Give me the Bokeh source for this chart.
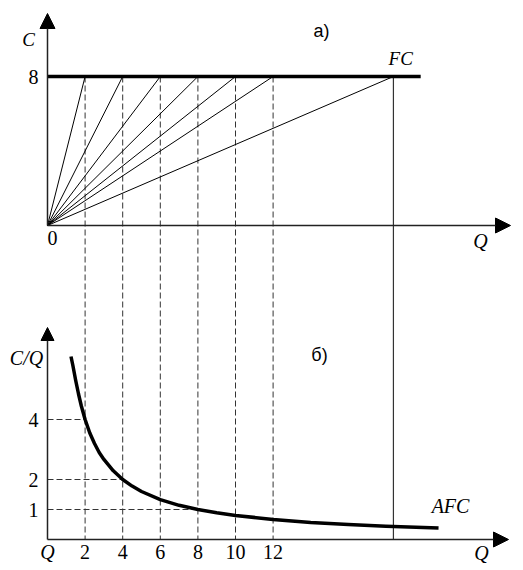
from bokeh.plotting import figure
from bokeh.models import Range1d, Arrow, NormalHead
from bokeh.core.properties import value
from bokeh.embed import file_html
from bokeh.resources import INLINE

# ---------------- data ----------------
FC = 8                                   # fixed cost
ray_q = [2, 4, 6, 8, 10, 12, 18.4]       # Q where rays from the origin meet FC
guide_q = [2, 4, 6, 8, 10, 12]           # dashed guides / x tick labels
q_big = 18.4                             # solid vertical guide
fc_end = 19.85                           # right end of the FC line
afc_q = [1.25, 1.35, 1.5, 1.65, 1.8, 2, 2.25, 2.5, 2.75, 3, 3.5, 4, 4.5, 5, 6, 7, 8, 9, 10,
         12, 14, 16, 18, 20.8]
afc_v = [6.1, 5.8, 5.3, 4.85, 4.45, 4.0, 3.55, 3.2, 2.9, 2.67, 2.29, 2.0, 1.78, 1.6, 1.33,
         1.14, 1.0, 0.89, 0.8, 0.67, 0.57, 0.5, 0.44, 0.38]
afc_ticks = [4, 2, 1]                    # C/Q tick labels
afc_tick_q = [2, 4, 8]                   # where the horizontal guides meet the curve

# ---------------- layout (pixels) ----------------
W, H = 523, 570
X0 = 47            # frame x of Q = 0
KX = 18.8          # px per Q unit
Y0_TOP = 225       # frame y (from top) of C = 0 (upper panel)
KY_TOP = 18.625    # px per C unit
Y0_BOT = 539       # frame y of C/Q = 0 (lower panel)
KY_BOT = 30.0      # px per C/Q unit

x_start = -X0 / KX
top_hi = Y0_TOP / KY_TOP
bot_hi = Y0_BOT / KY_BOT

p = figure(width=W, height=H, output_backend="svg", toolbar_location=None,
           x_axis_type=None, y_axis_type=None, min_border=0,
           x_range=Range1d(x_start, x_start + W / KX),
           y_range=Range1d(top_hi - H / KY_TOP, top_hi))
p.extra_y_ranges = {"bot": Range1d(bot_hi - H / KY_BOT, bot_hi)}
p.grid.visible = False
p.outline_line_color = None
p.background_fill_color = "white"
p.border_fill_color = "white"

bot_zero_in_top = (Y0_TOP - Y0_BOT) / KY_TOP   # lower panel's axis in upper-panel units

SERIF = value("Liberation Serif")
SANS = value("Liberation Sans")
AX = "#222222"

# ---------------- guides through both panels ----------------
p.segment(x0=guide_q, y0=[FC] * len(guide_q), x1=guide_q, y1=[bot_zero_in_top] * len(guide_q),
          line_color="#333333", line_width=1, line_dash="6 3")
p.segment(x0=[q_big], y0=[FC], x1=[q_big], y1=[bot_zero_in_top],
          line_color="#333333", line_width=1.2)

# ---------------- upper panel ----------------
p.segment(x0=[0] * len(ray_q), y0=[0] * len(ray_q), x1=ray_q, y1=[FC] * len(ray_q),
          line_color="black", line_width=1)
p.line(x=[0, fc_end], y=[FC, FC], line_color="black", line_width=3.5)

p.add_layout(Arrow(x_start=0, y_start=0, x_end=0, y_end=212 / KY_TOP, line_color=AX, line_width=1.5,
                   end=NormalHead(size=15, fill_color="black", line_color="black")))
p.add_layout(Arrow(x_start=0, y_start=0, x_end=(510 - 47) / KX, y_end=0, line_color=AX, line_width=1.5,
                   end=NormalHead(size=15, fill_color="black", line_color="black")))

p.text(x=[0], y=[FC], text=["8"], text_font=SERIF, text_font_size="20px",
       text_align="right", text_baseline="middle", x_offset=-9)
p.text(x=[0], y=[0], text=["0"], text_font=SERIF, text_font_size="20px",
       text_align="center", text_baseline="middle", x_offset=5, y_offset=12)
p.text(x=[0], y=[FC], text=["C"], text_font=SERIF, text_font_style="italic", text_font_size="19px",
       text_align="center", text_baseline="middle", x_offset=-19, y_offset=-37)
p.text(x=[fc_end], y=[FC], text=["FC"], text_font=SERIF, text_font_style="italic", text_font_size="19px",
       text_align="center", text_baseline="middle", x_offset=-20, y_offset=-18)
p.text(x=[(510 - 47) / KX], y=[0], text=["Q"], text_font=SERIF, text_font_style="italic",
       text_font_size="20px", text_align="center", text_baseline="middle", x_offset=-30, y_offset=15)
p.text(x=[(321 - 47) / KX], y=[FC], text=["а)"], text_font=SANS, text_font_size="18px",
       text_align="center", text_baseline="middle", y_offset=-46)

# ---------------- lower panel ----------------
p.segment(x0=[0] * 3, y0=afc_ticks, x1=afc_tick_q, y1=afc_ticks, y_range_name="bot",
          line_color="#333333", line_width=1, line_dash="6 3")
p.line(x=afc_q, y=afc_v, y_range_name="bot", line_color="black", line_width=3.5,
       line_join="round", line_cap="butt")

p.add_layout(Arrow(x_start=0, y_start=0, x_end=0, y_end=212 / KY_BOT, y_range_name="bot",
                   line_color=AX, line_width=1.5,
                   end=NormalHead(size=13, fill_color="black", line_color="black")))
p.add_layout(Arrow(x_start=0, y_start=0, x_end=(508 - 47) / KX, y_end=0, y_range_name="bot",
                   line_color=AX, line_width=1.5,
                   end=NormalHead(size=15, fill_color="black", line_color="black")))

p.text(x=guide_q, y=[0] * len(guide_q), text=[str(q) for q in guide_q], y_range_name="bot",
       text_font=SERIF, text_font_size="20px", text_align="center", text_baseline="middle",
       y_offset=12)
p.text(x=[0] * 3, y=afc_ticks, text=[str(v) for v in afc_ticks], y_range_name="bot",
       text_font=SERIF, text_font_size="20px", text_align="right", text_baseline="middle",
       x_offset=-9)
p.text(x=[0], y=[0], text=["Q"], y_range_name="bot", text_font=SERIF, text_font_style="italic",
       text_font_size="20px", text_align="center", text_baseline="middle", y_offset=12)
p.text(x=[0], y=[212 / KY_BOT], text=["C/Q"], y_range_name="bot", text_font=SERIF,
       text_font_style="italic", text_font_size="20px", text_align="center",
       text_baseline="middle", x_offset=-21, y_offset=30)
p.text(x=[(508 - 47) / KX], y=[0], text=["Q"], y_range_name="bot", text_font=SERIF,
       text_font_style="italic", text_font_size="20px", text_align="center",
       text_baseline="middle", x_offset=-27, y_offset=13)
p.text(x=[afc_q[-1]], y=[afc_v[-1]], text=["AFC"], y_range_name="bot", text_font=SERIF,
       text_font_style="italic", text_font_size="20px", text_align="center",
       text_baseline="middle", x_offset=12, y_offset=-22)
p.text(x=[(319 - 47) / KX], y=[0], text=["б)"], y_range_name="bot", text_font=SANS,
       text_font_size="18px", text_align="center", text_baseline="middle", y_offset=-185)

open("out.html", "w").write(file_html(p, INLINE))
